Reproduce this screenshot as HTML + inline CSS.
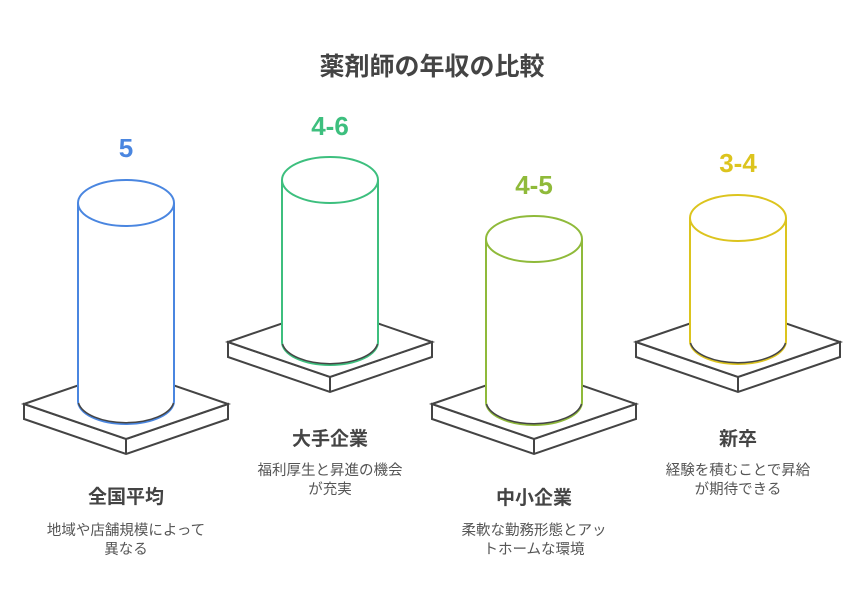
<!DOCTYPE html>
<html><head><meta charset="utf-8"><style>
body{margin:0;background:#fff;}
svg text{font-family:"Liberation Sans","Noto Sans CJK JP",sans-serif;}
</style></head><body>
<svg width="864" height="607" viewBox="0 0 864 607" xmlns="http://www.w3.org/2000/svg">
<rect width="864" height="607" fill="#fff"/>
<text x="432" y="75" text-anchor="middle" font-size="25" font-weight="bold" fill="#444">薬剤師の年収の比較</text>
<defs>
<g id="plat" fill="#fff" stroke="#444" stroke-width="2" stroke-linejoin="miter">
<path d="M-102 0 L0 35 L102 0 L102 15 L0 50 L-102 15 Z"/>
<path d="M-102 0 L0 -35 L102 0 L0 35 Z"/>
<path d="M0 35 L0 50" fill="none"/>
</g>
</defs>
<use href="#plat" x="126" y="404"/>
<use href="#plat" x="330" y="342"/>
<use href="#plat" x="534" y="404"/>
<use href="#plat" x="738" y="342"/>
<g fill="#fff" stroke-width="2">
<g stroke="#4a86e0">
<path d="M78 203 L78 401 A48 23 0 0 0 174 401 L174 203" />
<path d="M78.5 403 A48 23 0 0 0 173.5 403" stroke="#444" fill="none" stroke-width="1.5"/>
<ellipse cx="126" cy="203" rx="48" ry="23"/>
</g>
<g stroke="#3dbf7e">
<path d="M282 180 L282 342 A48 23 0 0 0 378 342 L378 180"/>
<path d="M282.5 344 A48 23 0 0 0 377.5 344" stroke="#444" fill="none" stroke-width="1.5"/>
<ellipse cx="330" cy="180" rx="48" ry="23"/>
</g>
<g stroke="#8fba3a">
<path d="M486 239 L486 402 A48 23 0 0 0 582 402 L582 239"/>
<path d="M486.5 404 A48 23 0 0 0 581.5 404" stroke="#444" fill="none" stroke-width="1.5"/>
<ellipse cx="534" cy="239" rx="48" ry="23"/>
</g>
<g stroke="#dcc41e">
<path d="M690 218 L690 341 A48 23 0 0 0 786 341 L786 218"/>
<path d="M690.5 343 A48 23 0 0 0 785.5 343" stroke="#444" fill="none" stroke-width="1.5"/>
<ellipse cx="738" cy="218" rx="48" ry="23"/>
</g>
</g>
<g font-size="26" font-weight="bold" text-anchor="middle">
<text x="126" y="157" fill="#4a86e0">5</text>
<text x="330" y="135" fill="#3dbf7e">4-6</text>
<text x="534" y="194" fill="#8fba3a">4-5</text>
<text x="738" y="172" fill="#dcc41e">3-4</text>
</g>
<g font-size="19" font-weight="bold" text-anchor="middle" fill="#444">
<text x="126" y="503">全国平均</text>
<text x="330" y="445">大手企業</text>
<text x="534" y="504">中小企業</text>
<text x="738" y="445">新卒</text>
</g>
<g font-size="14.5" text-anchor="middle" fill="#555">
<text x="126" y="535">地域や店舗規模によって</text>
<text x="126" y="554">異なる</text>
<text x="330" y="475">福利厚生と昇進の機会</text>
<text x="330" y="494">が充実</text>
<text x="534" y="535">柔軟な勤務形態とアッ</text>
<text x="534" y="554">トホームな環境</text>
<text x="738" y="475">経験を積むことで昇給</text>
<text x="738" y="494">が期待できる</text>
</g>
</svg>
</body></html>
